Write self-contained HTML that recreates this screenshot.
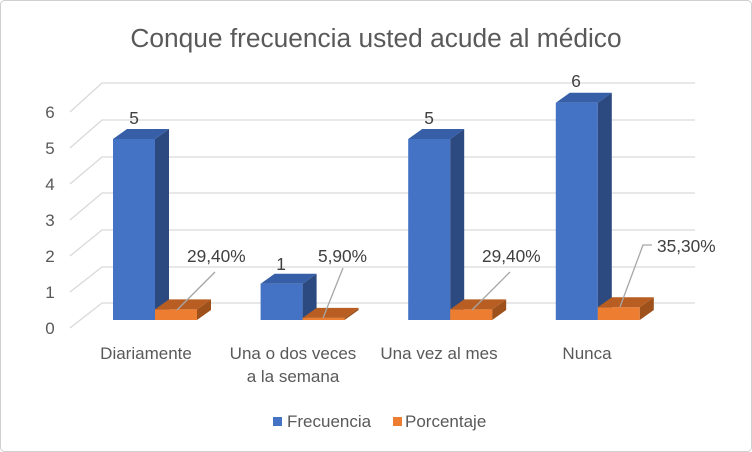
<!DOCTYPE html>
<html><head><meta charset="utf-8"><style>
body{margin:0;background:#fff}
svg{display:block;font-family:"Liberation Sans",sans-serif}
</style></head><body>
<svg width="752" height="452" viewBox="0 0 752 452">
<rect x="0.5" y="0.5" width="751" height="451" rx="4" fill="#fff" stroke="#d0d0d0"/>
<text x="376" y="47" text-anchor="middle" font-size="26.3" fill="#595959">Conque frecuencia usted acude al médico</text>
<g stroke="#d9d9d9" stroke-width="1.3" fill="none">
<polyline points="70,112 102,83 695,83"/>
<polyline points="70,148 102,120 695,120"/>
<polyline points="70,184 102,157 695,157"/>
<polyline points="70,220 102,193 695,193"/>
<polyline points="70,256 102,230 695,230"/>
<polyline points="70,292 102,267 695,267"/>
<polyline points="70,328 102,303 695,303"/>
</g>
<g font-size="17" fill="#595959" text-anchor="middle">
<text x="50" y="118">6</text><text x="50" y="154">5</text><text x="50" y="190">4</text>
<text x="50" y="226">3</text><text x="50" y="262">2</text><text x="50" y="298">1</text><text x="50" y="334">0</text>
</g>
<g id="bars"></g>
<script>
var g=document.getElementById('bars');var ns='http://www.w3.org/2000/svg';
function bar(x,h,f,t,s){var top=320-h;
 function p(pts,c){var e=document.createElementNS(ns,'polygon');e.setAttribute('points',pts);e.setAttribute('fill',c);g.appendChild(e);}
 p(x+','+top+' '+(x+42)+','+top+' '+(x+42)+',320 '+x+',320',f);
 p((x+42)+','+top+' '+(x+56)+','+(top-10)+' '+(x+56)+',310 '+(x+42)+',320',s);
 p(x+','+top+' '+(x+14)+','+(top-10)+' '+(x+56)+','+(top-10)+' '+(x+42)+','+top,t);}
var xs=[113,260.6,408.2,555.8],bv=[5,1,5,6],ov=[0.294,0.059,0.294,0.353];
for(var i=0;i<4;i++){bar(xs[i],bv[i]*36.2,'#4472C4','#365FA8','#2C4A80');}
for(var i=0;i<4;i++){bar(xs[i]+42,ov[i]*36.2,'#ED7D31','#B85E22','#9E511B');}
</script>
<g stroke="#a6a6a6" stroke-width="1.3" fill="none">
<line x1="215" y1="272" x2="177" y2="310"/>
<line x1="343" y1="268" x2="323" y2="318"/>
<line x1="510" y1="272" x2="472" y2="310"/>
<polyline points="652,245 643,245 620,307"/>
</g>
<g font-size="17.3" fill="#404040">
<text x="134" y="124" text-anchor="middle">5</text>
<text x="281" y="270" text-anchor="middle">1</text>
<text x="429" y="124" text-anchor="middle">5</text>
<text x="576" y="87" text-anchor="middle">6</text>
<text x="187" y="262">29,40%</text>
<text x="318" y="262">5,90%</text>
<text x="482" y="262">29,40%</text>
<text x="657" y="252">35,30%</text>
</g>
<g font-size="17" fill="#595959" text-anchor="middle">
<text x="146" y="359">Diariamente</text>
<text x="293" y="359">Una o dos veces</text>
<text x="293" y="382">a la semana</text>
<text x="439" y="359">Una vez al mes</text>
<text x="587" y="359">Nunca</text>
</g>
<rect x="273" y="417" width="9" height="9" fill="#4472C4"/>
<text x="287" y="427" font-size="17" fill="#595959">Frecuencia</text>
<rect x="393" y="417" width="9" height="9" fill="#ED7D31"/>
<text x="405" y="427" font-size="17" fill="#595959">Porcentaje</text>
</svg>
</body></html>
